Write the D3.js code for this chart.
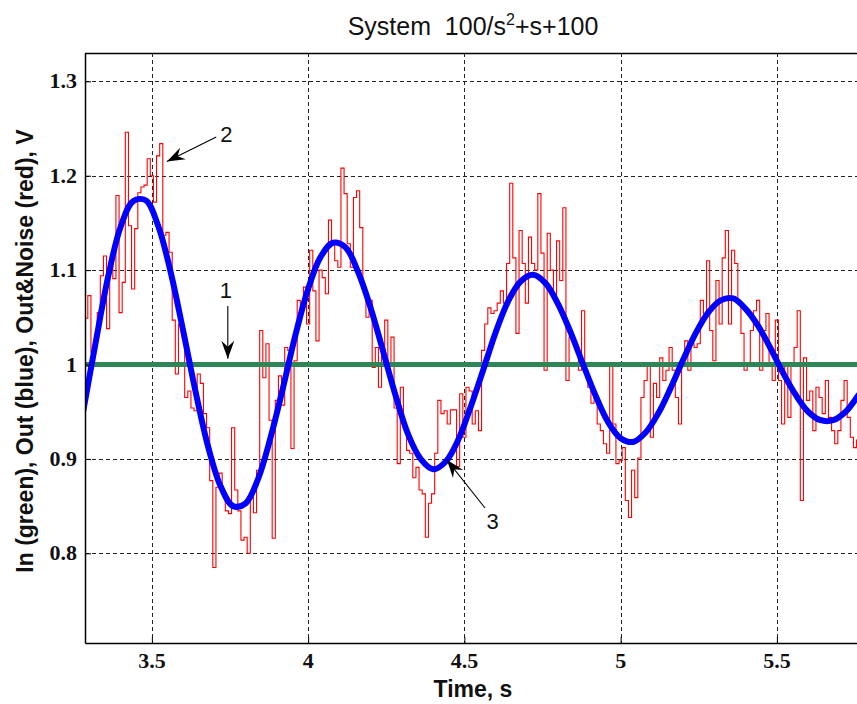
<!DOCTYPE html>
<meta charset="utf-8">

<head>
    <title>System step response with noise</title>
    <script type="text/javascript" src="https://cdn.jsdelivr.net/npm/d3@7"></script>
    <style>
        body {
            margin: 0;
            background: white;
        }

        .grid line {
            stroke: #222;
            stroke-width: 1;
            stroke-dasharray: 4, 3;
        }

        .tick-label {
            font-family: "Liberation Serif", "Times New Roman", serif;
            font-weight: bold;
            font-size: 22px;
            fill: #111;
        }

        .axis-title {
            font-family: "Liberation Sans", Arial, sans-serif;
            font-weight: bold;
            font-size: 23px;
            fill: #111;
        }

        .note {
            font-family: "Liberation Sans", Arial, sans-serif;
            font-size: 22px;
            fill: #111;
        }
    </style>
</head>

<body>
    <div id="chart"></div>

    <script>

        // ---- data ----
        var xTicks = [3.5, 4, 4.5, 5, 5.5];
        var xTickLabels = ["3.5", "4", "4.5", "5", "5.5"];
        var yTicks = [0.8, 0.9, 1.0, 1.1, 1.2, 1.3];
        var yTickLabels = ["0.8", "0.9", "1", "1.1", "1.2", "1.3"];

        // input step (green)
        var inTime = [3.2, 5.9];
        var inValue = [1, 1];

        // output, blue, sampled every 0.04 s from 3.28 s
        var outStart = 3.28;
        var outStep = 0.04;
        var outValue = [
            0.950, 1.023, 1.093, 1.146, 1.173, 1.174, 1.147, 1.098, 1.036, 0.971,
            0.913, 0.871, 0.850, 0.853, 0.879, 0.923, 0.976, 1.032, 1.080, 1.114,
            1.129, 1.124, 1.098, 1.060, 1.014, 0.967, 0.926, 0.900, 0.889, 0.897,
            0.920, 0.955, 0.994, 1.034, 1.067, 1.088, 1.095, 1.086, 1.064, 1.034,
            1.000, 0.967, 0.939, 0.922, 0.918, 0.928, 0.948, 0.975, 1.005, 1.033,
            1.055, 1.068, 1.070, 1.059, 1.041, 1.017, 0.991, 0.968, 0.950, 0.941,
            0.941, 0.950, 0.967, 0.985
        ];

        // output with noise, red, sampled every 0.01 s from 3.28 s
        var noiseStart = 3.28;
        var noiseStep = 0.01;
        var noiseValue = [
            0.981, 1.049, 1.073, 1.013, 1.023, 1.055, 1.094, 1.115, 1.038, 1.112,
            1.091, 1.179, 1.055, 1.087, 1.246, 1.147, 1.080, 1.144, 1.182, 1.188,
            1.190, 1.218, 1.200, 1.172, 1.221, 1.234, 1.137, 1.140, 1.119, 1.047,
            0.990, 1.043, 1.033, 0.965, 0.972, 0.954, 0.951, 0.990, 0.980, 0.948,
            0.933, 0.877, 0.785, 0.870, 0.885, 0.863, 0.845, 0.842, 0.933, 0.867,
            0.845, 0.814, 0.817, 0.800, 0.859, 0.843, 0.888, 1.036, 0.986, 1.022,
            0.941, 0.816, 0.962, 0.988, 0.957, 1.018, 1.015, 0.911, 1.004, 1.068,
            1.057, 1.082, 1.043, 1.121, 1.078, 1.025, 1.100, 1.092, 1.075, 1.153,
            1.128, 1.110, 1.103, 1.208, 1.181, 1.128, 1.103, 1.177, 1.184, 1.145,
            1.082, 1.050, 1.068, 0.997, 1.018, 0.976, 1.012, 1.047, 1.001, 1.029,
            0.954, 0.895, 0.976, 0.933, 0.909, 0.906, 0.880, 0.891, 0.867, 0.863,
            0.817, 0.853, 0.863, 0.906, 0.962, 0.948, 0.951, 0.937, 0.952, 0.952,
            0.892, 0.969, 0.923, 0.976, 0.972, 0.937, 0.951, 0.930, 1.015, 1.043,
            1.060, 1.054, 1.057, 1.065, 1.078, 1.065, 1.107, 1.192, 1.113, 1.033,
            1.142, 1.107, 1.065, 1.135, 1.107, 1.100, 1.181, 1.118, 0.994, 1.139,
            1.100, 1.071, 1.131, 1.089, 1.166, 0.983, 1.029, 1.025, 1.015, 0.994,
            1.057, 0.994, 0.976, 0.959, 0.965, 0.937, 0.930, 0.916, 0.906, 1.001,
            0.937, 0.895, 0.898, 0.912, 0.856, 0.838, 0.888, 0.859, 0.901, 0.965,
            0.983, 1.001, 0.923, 0.980, 0.965, 1.007, 0.983, 0.994, 1.018, 0.994,
            0.965, 0.937, 1.001, 1.025, 0.994, 1.022, 1.018, 1.022, 1.068, 1.054,
            1.110, 1.036, 1.004, 1.089, 1.043, 1.113, 1.142, 1.043, 1.121, 1.107,
            1.065, 1.033, 0.994, 1.001, 1.036, 1.057, 1.068, 0.994, 1.036, 1.054,
            1.001, 0.983, 1.047, 0.983, 0.937, 1.001, 0.944, 1.001, 1.018, 1.057,
            0.856, 1.007, 0.962, 0.972, 0.930, 0.976, 0.965, 0.948, 0.983, 0.944,
            0.930, 0.916, 0.930, 0.962, 0.983, 0.944, 0.923, 0.912, 0.920
        ];

        // numbered call-outs: label position and arrow tail / tip, in data units
        var notes = [
            { label: "1", tx: 3.737, ty: 1.070, x1: 3.743, y1: 1.062, x2: 3.743, y2: 1.006 },
            { label: "2", tx: 3.738, ty: 1.236, x1: 3.706, y1: 1.241, x2: 3.548, y2: 1.215 },
            { label: "3", tx: 4.590, ty: 0.826, x1: 4.566, y1: 0.848, x2: 4.444, y2: 0.899 }
        ];

        // ---- layout ----
        var width = 857;
        var height = 704;
        var margin = { top: 53, right: -4, bottom: 61, left: 85 };
        var plotRight = width - margin.right;
        var plotBottom = height - margin.bottom;

        var svg = d3.select("#chart")
            .append("svg")
            .attr("width", width)
            .attr("height", height);

        var x = d3.scaleLinear()
            .domain([3.286, 3.286 + (plotRight - margin.left) / 312.5])
            .range([margin.left, plotRight]);

        var y = d3.scaleLinear()
            .domain([0.705, 1.33])
            .range([plotBottom, margin.top]);

        // clip for the traces
        svg.append("clipPath")
            .attr("id", "plotClip")
            .append("rect")
            .attr("x", margin.left)
            .attr("y", margin.top)
            .attr("width", plotRight - margin.left)
            .attr("height", plotBottom - margin.top);

        // dashed grid
        var grid = svg.append("g").attr("class", "grid");
        grid.selectAll(".vgrid")
            .data(xTicks)
            .enter()
            .append("line")
            .attr("x1", function (d) { return Math.round(x(d)) + 0.5; })
            .attr("x2", function (d) { return Math.round(x(d)) + 0.5; })
            .attr("y1", margin.top)
            .attr("y2", plotBottom);
        grid.selectAll(".hgrid")
            .data(yTicks)
            .enter()
            .append("line")
            .attr("y1", function (d) { return Math.round(y(d)) + 0.5; })
            .attr("y2", function (d) { return Math.round(y(d)) + 0.5; })
            .attr("x1", margin.left)
            .attr("x2", plotRight);

        // traces
        var traces = svg.append("g").attr("clip-path", "url(#plotClip)");

        var line = d3.line()
            .x(function (d) { return x(d[0]); })
            .y(function (d) { return y(d[1]); });

        var noiseData = noiseValue.map(function (v, i) { return [noiseStart + i * noiseStep, v]; });
        var outData = outValue.map(function (v, i) { return [outStart + i * outStep, v]; });
        var inData = inValue.map(function (v, i) { return [inTime[i], v]; });

        traces.append("path")
            .datum(noiseData)
            .attr("fill", "none")
            .attr("stroke", "#ff0000")
            .attr("stroke-width", 1.1)
            .attr("d", line.curve(d3.curveStep));

        traces.append("path")
            .datum(inData)
            .attr("fill", "none")
            .attr("stroke", "#2e8555")
            .attr("stroke-width", 5)
            .attr("d", line.curve(d3.curveLinear));

        traces.append("path")
            .datum(outData)
            .attr("fill", "none")
            .attr("stroke", "#0000ff")
            .attr("stroke-width", 6)
            .attr("d", line.curve(d3.curveCatmullRom));

        // axes box (left, top, bottom) with inward ticks
        var xAxis = d3.axisBottom(x)
            .tickValues(xTicks)
            .tickSizeInner(-6)
            .tickSizeOuter(0)
            .tickFormat("");
        svg.append("g")
            .attr("transform", "translate(0," + plotBottom + ")")
            .call(xAxis)
            .call(function (g) {
                g.select(".domain").attr("stroke-width", 1.5);
            });

        var yAxis = d3.axisLeft(y)
            .tickValues(yTicks)
            .tickSizeInner(-6)
            .tickSizeOuter(0)
            .tickFormat("");
        svg.append("g")
            .attr("transform", "translate(" + margin.left + ",0)")
            .call(yAxis)
            .call(function (g) {
                g.select(".domain").attr("stroke-width", 1.5);
            });

        svg.append("line")
            .attr("x1", margin.left)
            .attr("x2", plotRight)
            .attr("y1", margin.top + 0.5)
            .attr("y2", margin.top + 0.5)
            .attr("stroke", "#000")
            .attr("stroke-width", 1.5);

        // tick labels
        svg.selectAll(".xlab")
            .data(xTicks)
            .enter()
            .append("text")
            .attr("class", "tick-label")
            .attr("x", function (d) { return x(d); })
            .attr("y", plotBottom + 25)
            .attr("text-anchor", "middle")
            .text(function (d, i) { return xTickLabels[i]; });

        svg.selectAll(".ylab")
            .data(yTicks)
            .enter()
            .append("text")
            .attr("class", "tick-label")
            .attr("x", margin.left - 8)
            .attr("y", function (d) { return y(d) + 7; })
            .attr("text-anchor", "end")
            .text(function (d, i) { return yTickLabels[i]; });

        // title and axis titles
        var title = svg.append("text")
            .attr("x", 473)
            .attr("y", 35)
            .attr("text-anchor", "middle")
            .style("font-family", "'Liberation Sans', Arial, sans-serif")
            .style("font-size", "25px")
            .style("fill", "#111");
        title.append("tspan").text("System\u00a0\u00a0100/s");
        title.append("tspan").attr("dy", -10).style("font-size", "16px").text("2");
        title.append("tspan").attr("dy", 10).text("+s+100");

        svg.append("text")
            .attr("class", "axis-title")
            .attr("x", 473)
            .attr("y", 697)
            .attr("text-anchor", "middle")
            .text("Time, s");

        svg.append("text")
            .attr("class", "axis-title")
            .attr("transform", "translate(33,351) rotate(-90)")
            .attr("text-anchor", "middle")
            .text("In (green), Out (blue), Out&Noise (red), V");

        // arrowhead marker (notched, filled)
        svg.append("defs")
            .append("marker")
            .attr("id", "head")
            .attr("viewBox", "-19 -7 20 14")
            .attr("refX", 0)
            .attr("refY", 0)
            .attr("markerWidth", 20)
            .attr("markerHeight", 14)
            .attr("markerUnits", "userSpaceOnUse")
            .attr("orient", "auto")
            .append("path")
            .attr("d", "M0,0 L-18,-6.5 L-12,0 L-18,6.5 Z")
            .attr("fill", "#000");

        var callouts = svg.append("g");
        callouts.selectAll("line")
            .data(notes)
            .enter()
            .append("line")
            .attr("x1", function (d) { return x(d.x1); })
            .attr("y1", function (d) { return y(d.y1); })
            .attr("x2", function (d) { return x(d.x2); })
            .attr("y2", function (d) { return y(d.y2); })
            .attr("stroke", "#000")
            .attr("stroke-width", 1.1)
            .attr("marker-end", "url(#head)");

        callouts.selectAll("text")
            .data(notes)
            .enter()
            .append("text")
            .attr("class", "note")
            .attr("x", function (d) { return x(d.tx); })
            .attr("y", function (d) { return y(d.ty); })
            .attr("text-anchor", "middle")
            .text(function (d) { return d.label; });

    </script>
</body>

</html>
